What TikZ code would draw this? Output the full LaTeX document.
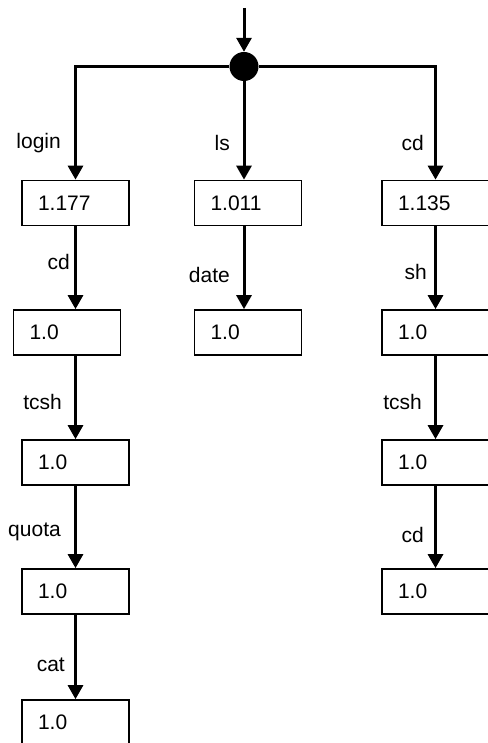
\documentclass[tikz,border=0pt]{standalone}
\usepackage{fontspec}
\setmainfont{Liberation Sans}
\usetikzlibrary{arrows.meta,positioning}

\tikzset{
  state/.style={rectangle,draw,line width=1.7pt,text width=75pt,inner xsep=16pt,
    minimum height=45pt,align=left,font=\fontsize{21}{24}\selectfont},
  cmd/.style={anchor=east,inner sep=0pt,font=\fontsize{21}{24}\selectfont},
  flow/.style={line width=3pt,-{Triangle[length=14pt,width=15pt]}},
}

\begin{document}
\begin{tikzpicture}[x=1pt,y=1pt]
\useasboundingbox (0,0) rectangle (487,-743);

% entry point and branching dot
\coordinate (in) at (244,-8);
\node[circle,fill,inner sep=0pt,minimum size=29pt] (hub) at (244,-66.5) {};

% left chain
\node[state] (l1) at (75.5,-203) {1.177};
\node[state] (l2) at (67,-332.5) {1.0};
\node[state] (l3) at (75.5,-462.5) {1.0};
\node[state] (l4) at (75.5,-591.5) {1.0};
\node[state] (l5) at (75.5,-722.5) {1.0};

% middle chain
\node[state] (m1) at (248,-203) {1.011};
\node[state] (m2) at (248,-332.5) {1.0};

% right chain
\node[state] (r1) at (435.5,-203) {1.135};
\node[state] (r2) at (435.5,-332.5) {1.0};
\node[state] (r3) at (435.5,-462.5) {1.0};
\node[state] (r4) at (435.5,-591.5) {1.0};

% command labels
\node[cmd] (login) at (61,-143) {login};
\node[cmd] (ls)    at (230,-143) {ls};
\node[cmd] (cdr)   at (424,-143) {cd};
\node[cmd] (cdl)   at (70,-262) {cd};
\node[cmd] (date)  at (230,-275) {date};
\node[cmd] (sh)    at (427,-272) {sh};
\node[cmd] (tcshl) at (62,-402) {tcsh};
\node[cmd] (tcshr) at (422,-402) {tcsh};
\node[cmd] (quota) at (61,-532) {quota};
\node[cmd] (cdrr)  at (424,-535) {cd};
\node[cmd] (cat)   at (65,-665) {cat};

\draw[flow] (in) -- (hub);
\draw[flow] (hub) -| (l1);
\draw[flow] (hub) -- (hub |- m1.north);
\draw[flow] (hub) -| (r1);

\draw[flow] (l1) -- (l1 |- l2.north);
\draw[flow] (l3 |- l2.south) -- (l3);
\draw[flow] (l3) -- (l4);
\draw[flow] (l4) -- (l5);

\draw[flow] (m1.south -| hub) -- (hub |- m2.north);

\draw[flow] (r1) -- (r2);
\draw[flow] (r2) -- (r3);
\draw[flow] (r3) -- (r4);
\end{tikzpicture}
\end{document}
